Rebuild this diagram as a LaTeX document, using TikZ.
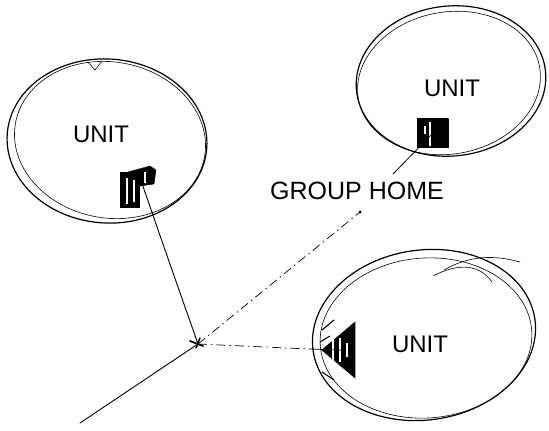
\documentclass[tikz,border=0pt]{standalone}
\usepackage{fontspec}
\setmainfont{Liberation Sans}
\usetikzlibrary{shapes.geometric,calc}
\begin{document}
\begin{tikzpicture}[x=1pt,y=-1pt,
  sketch/.style={line width=1.1pt, black, line cap=round},
  thinsketch/.style={line width=0.6pt, black, line cap=round},
  unitring/.style={ellipse, draw, line width=1.2pt, inner sep=0pt},
  lbl/.style={font=\fontsize{24}{24}\selectfont, inner sep=0pt},
  blockbox/.style={fill=black, inner sep=0pt},
  stripe/.style={white, line width=1.2pt},
  dashdot/.style={line width=0.7pt, dash pattern=on 9pt off 4pt on 1.5pt off 4pt},
]
\useasboundingbox (0,0) rectangle (549,431);

% ---------- left unit ----------
\node[unitring, minimum width=200pt, minimum height=164pt, rotate=-4] (c1) at (107,141) {};
\draw[thinsketch, rotate around={-10:(110,140)}] (110,140) ellipse [x radius=96, y radius=78];
\draw[thinsketch] (88,62) -- (95,70) -- (102,61);
\node[lbl] (u1) at (101,134) {UNIT};
\node[blockbox, minimum width=20pt, minimum height=36pt] (b1) at (130,190) {};
\draw[blockbox] (128,172) -- (150,166) -- (156,170) -- (154,184) -- (140,186) -- cycle;
\draw[stripe] (127,178) -- (127,204);
\draw[stripe] (134,180) -- (134,202);
\draw[stripe] (145,172) -- (145,183);

% ---------- top right unit ----------
\node[unitring, minimum width=190pt, minimum height=150pt, rotate=6] (c2) at (451,81) {};
\draw[thinsketch, rotate around={10:(449,83)}] (449,83) ellipse [x radius=92, y radius=71];
\node[lbl] (u2) at (452,88) {UNIT};
\node[blockbox, minimum width=32pt, minimum height=30pt] (b2) at (433,133) {};
\draw[stripe] (430,122) -- (430,146);
\draw[stripe] (425,126) -- (425,134);
\draw[stripe] (449,118) -- (453,128);

% ---------- bottom right unit ----------
\node[unitring, minimum width=224pt, minimum height=170pt, rotate=8] (c3) at (424,335) {};
\draw[thinsketch, rotate around={4:(426,338)}] (426,338) ellipse [x radius=106, y radius=80];
\draw[thinsketch] (433,276) .. controls (460,262) and (480,265) .. (492,282);
\draw[thinsketch] (444,270) .. controls (470,255) and (495,255) .. (520,262);
\node[lbl] (u3) at (420,344) {UNIT};
\node[blockbox, isosceles triangle, isosceles triangle apex angle=80, minimum height=34pt, shape border rotate=180] (b3) at (342,350) {};
\draw[stripe] (333,334) -- (333,368);
\draw[stripe] (340,338) -- (340,362);
\draw[stripe] (347,343) -- (347,357);
\draw[sketch] (322,330) -- (334,320);
\draw[sketch] (320,342) -- (330,336);
\draw[sketch] (322,372) -- (334,380);

% ---------- labels and connectors ----------
\node[lbl, font=\fontsize{25}{25}\selectfont] (gh) at (357,191) {GROUP HOME};
\coordinate (j) at (198,344);
\coordinate (tail) at (80,423);
\coordinate (ghpt) at (360,212);
\coordinate (gap) at (309,349);
\coordinate (hpt) at (393,174);

\draw[sketch, line width=0.9pt] ($(b1.east)+(2,-6)$) .. controls (165,250) .. (j);
\draw[sketch, line width=0.9pt] (j) -- (tail);
\draw[dashdot] (j) -- (ghpt);
\fill (ghpt) circle (1.6pt);
\draw[dashdot] (j) -- (gap);
\draw[sketch, line width=0.8pt] (gap) -- (b3.center);
\draw[sketch, line width=0.8pt] (b2.center) -- (hpt);
% junction mark
\draw[sketch, line width=1.8pt] ($(j)+(-8,-3)$) -- ($(j)+(5,2)$);
\draw[sketch, line width=1.4pt] ($(j)+(-2,4)$) -- ($(j)+(2,-6)$);
\end{tikzpicture}
\end{document}
